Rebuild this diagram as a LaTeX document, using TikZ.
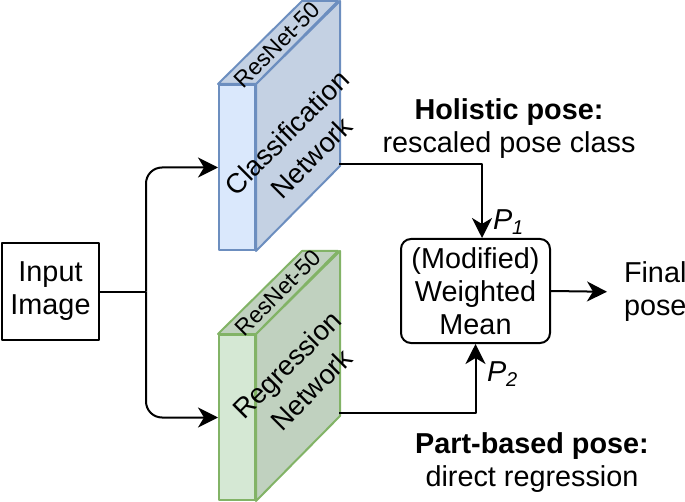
\documentclass[tikz,border=0pt]{standalone}
\usepackage{fontspec}
\setmainfont{Liberation Sans}
\usetikzlibrary{arrows.meta}
\definecolor{bluefront}{HTML}{DAE8FC}
\definecolor{blueside}{HTML}{C4D1E3}
\definecolor{bluestroke}{HTML}{6C8EBF}
\definecolor{greenfront}{HTML}{D5E8D4}
\definecolor{greenside}{HTML}{C0D1BF}
\definecolor{greenstroke}{HTML}{82B366}
\begin{document}
\begin{tikzpicture}[x=0.5pt,y=-0.5pt,line width=1pt,line join=round,
  arr/.style={-{Stealth[length=10pt,width=10pt,inset=3pt]}},
  lbl/.style={font=\fontsize{14.4}{16.5}\selectfont,align=center,inner sep=0pt},
  rlbl/.style={font=\fontsize{13.8}{17.5}\selectfont,align=center,inner sep=0pt,rotate=45},
  slbl/.style={font=\fontsize{11.5}{14}\selectfont,inner sep=0pt,rotate=45},
  frontface/.style={draw,minimum width=18pt,minimum height=82.5pt,inner sep=0pt}]
\useasboundingbox (0,0) rectangle (685,502);

% input
\node[draw,minimum width=48.5pt,minimum height=48.5pt,lbl] (in) at (50.5,291.5) {Input\\Image};

% classification cube
\node[frontface,draw=bluestroke,fill=bluefront] (cls) at (237,167.5) {};
\filldraw[draw=bluestroke,fill=blueside] (cls.north east) -- ++(84,-83) -- ++(0,165) -- (cls.south east) -- cycle;
\filldraw[draw=bluestroke,fill=blueside] (cls.north west) -- ++(84,-83) -- ++(36,0) -- (cls.north east) -- cycle;
\node[rlbl] (clstxt) at (299,145) {Classification\\Network};
\node[slbl] (clsres) at (277,45) {ResNet-50};

% regression cube
\node[frontface,draw=greenstroke,fill=greenfront] (reg) at (237,417.5) {};
\filldraw[draw=greenstroke,fill=greenside] (reg.north east) -- ++(84,-83) -- ++(0,165) -- (reg.south east) -- cycle;
\filldraw[draw=greenstroke,fill=greenside] (reg.north west) -- ++(84,-83) -- ++(36,0) -- (reg.north east) -- cycle;
\node[rlbl] (regtxt) at (299,377) {Regression\\Network};
\node[slbl] (regres) at (278,293) {ResNet-50};

% mean
\node[draw,rounded corners=5pt,minimum width=74.5pt,minimum height=52pt,lbl] (mean) at (475.5,291) {(Modified)\\Weighted\\Mean};
\node[lbl,anchor=west,align=left] (final) at (623,292) {Final\\pose};

% labels
\node[lbl] (hol) at (509,128.5) {\textbf{Holistic pose:}\\rescaled pose class};
\node[lbl] (part) at (532,462.5) {\textbf{Part-based pose:}\\direct regression};
\node[lbl,anchor=west] (p1) at (492,222) {\textit{P}\textsubscript{\textit{1}}};
\node[lbl,anchor=west] (p2) at (486,374) {\textit{P}\textsubscript{\textit{2}}};

% connectors
\coordinate (split) at (146,291.5);
\coordinate (clsout) at (339,164);
\coordinate (regout) at (339,413);
\coordinate (p1bend) at (482,164);
\draw (in.east) -- (split);
\draw[arr,rounded corners=8pt] (split) |- (cls.west);
\draw[arr,rounded corners=8pt] (split) |- (reg.west);
\draw[arr] (clsout) -- (p1bend) -- (p1bend |- mean.north);
\draw[arr] (regout) -| (mean.south);
\draw[arr,shorten >=8pt] (mean.east) -- (final.west);
\end{tikzpicture}
\end{document}
